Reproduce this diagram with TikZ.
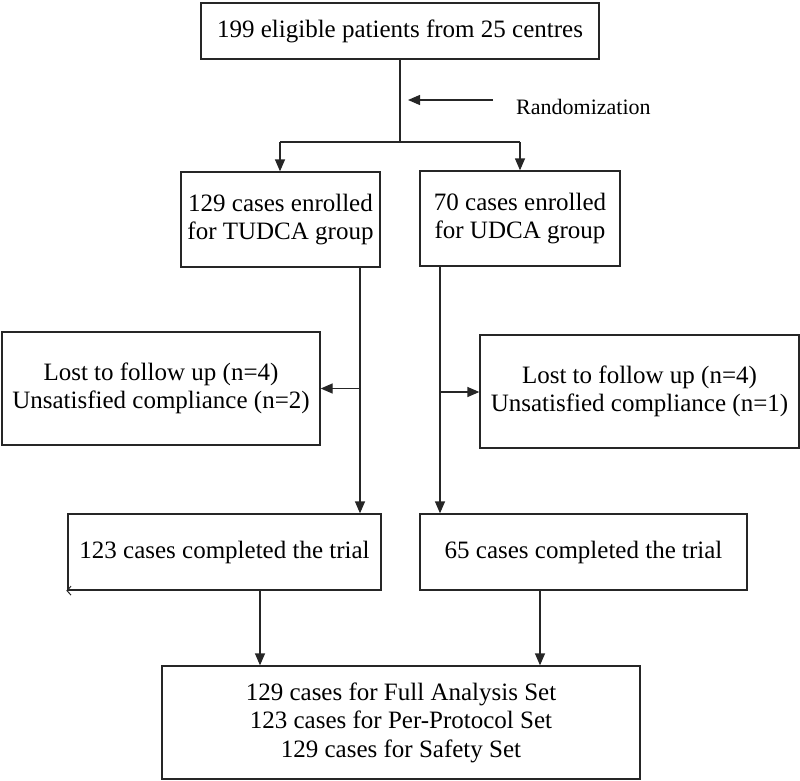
\documentclass[tikz,border=0pt]{standalone}
\usepackage{fontspec}
\setmainfont{Liberation Serif}
\usetikzlibrary{arrows.meta}
\begin{document}
\begin{tikzpicture}[x=1pt,y=-1pt,
  box/.style={draw=black!85,line width=1.3pt,inner sep=0pt,align=center,
    font=\fontsize{25}{28.5}\selectfont,text=black},
  conn/.style={draw=black!85,line width=1.3pt},
  arr/.style={conn,-{Triangle[length=12pt,width=10pt]}}]
\useasboundingbox (0,0) rectangle (800,781);
\node[box,minimum width=398pt,minimum height=56pt] (top) at (400,31) {199 eligible patients from 25 centres};
\node[box,minimum width=199pt,minimum height=95pt] (e1) at (280.5,219.5) {129 cases enrolled\\for TUDCA group};
\node[box,minimum width=200pt,minimum height=95pt] (e2) at (520,218.5) {70 cases enrolled\\for UDCA group};
\node[box,minimum width=318pt,minimum height=113pt] (l1) at (161,388.5) {Lost to follow up (n=4)\\Unsatisfied compliance (n=2)};
\node[box,minimum width=319pt,minimum height=113pt] (l2) at (639.5,391.5) {Lost to follow up (n=4)\\Unsatisfied compliance (n=1)};
\node[box,minimum width=313pt,minimum height=76pt] (c1) at (224.5,552) {123 cases completed the trial};
\node[box,minimum width=327pt,minimum height=76pt] (c2) at (583.5,552) {65 cases completed the trial};
\node[box,minimum width=478pt,minimum height=113pt] (b) at (401,722.5) {129 cases for Full Analysis Set\\123 cases for Per-Protocol Set\\129 cases for Safety Set};
\node[font=\fontsize{22}{26}\selectfont,anchor=west,inner sep=0pt] (rand) at (516,107) {Randomization};
% split
\coordinate (split) at (400,142);
\coordinate (sl) at (280,142);
\coordinate (sr) at (520,142);
\draw[conn] (top.south) -- (split);
\draw[conn] (sl) -- (sr);
\draw[arr] (sl) -- (sl |- e1.north);
\draw[arr] (sr) -- (sr |- e2.north);
\coordinate (ra) at (493,100);
\coordinate (rb) at (408,100);
\draw[arr] (ra) -- (rb);
% left branch
\coordinate (e1b) at (360,0);
\draw[arr] (e1b |- e1.south) -- (e1b |- c1.north);
\draw[arr] (e1b |- l1.east) -- (l1.east);
% right branch
\coordinate (e2b) at (440,0);
\draw[arr] (e2b |- e2.south) -- (e2b |- c2.north);
\coordinate (l2a) at (440,392);
\draw[arr] (l2a) -- (l2a -| l2.west);
% to bottom
\coordinate (c1b) at (260,0);
\coordinate (c2b) at (540,0);
\draw[arr] (c1b |- c1.south) -- (c1b |- b.north);
\draw[arr] (c2b |- c2.south) -- (c2b |- b.north);
% small open tip at corner
\draw[conn,line width=1pt,-{Straight Barb[length=4pt,width=9pt]}] ([xshift=6pt]c1.south west) -- ([xshift=-1pt]c1.south west);
\end{tikzpicture}
\end{document}
